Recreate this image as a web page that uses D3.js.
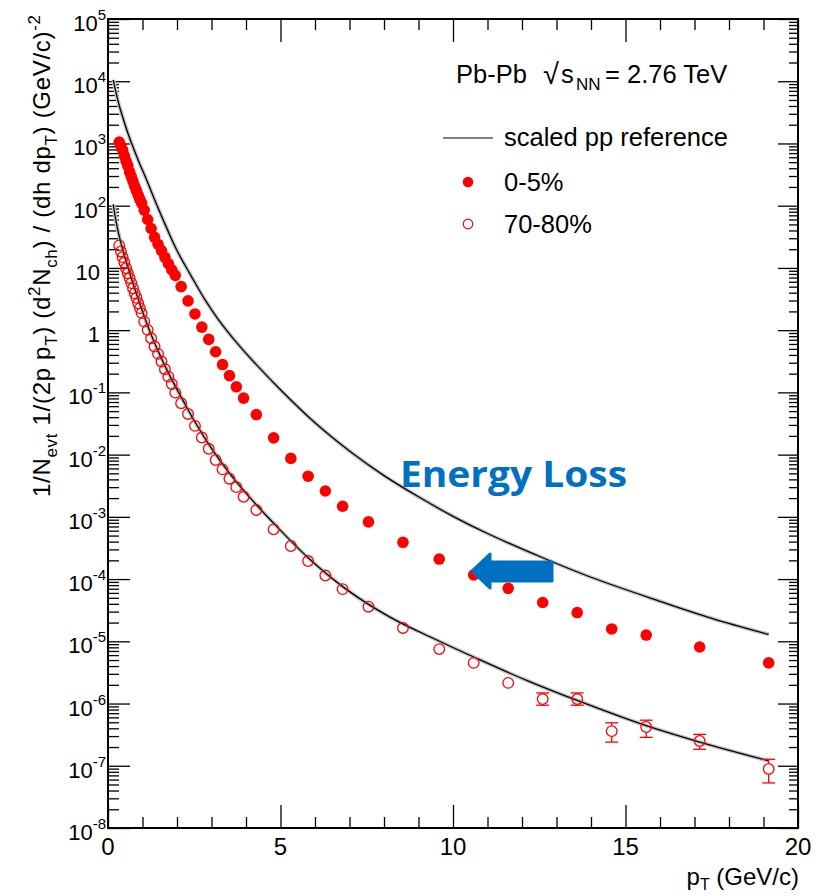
<!DOCTYPE html>
<html>
<head>
<meta charset="utf-8">
<script src="https://cdn.jsdelivr.net/npm/d3@7"></script>
<style>
  body { margin: 0; background: #fff; }
  text { font-family: "Liberation Sans", Arial, sans-serif; fill: #000; }
</style>
</head>
<body>
<div id="chart"></div>
<script>
// values (pT in GeV/c, yields per event)
var pt = [0.325, 0.375, 0.425, 0.475, 0.525, 0.575, 0.625, 0.675, 0.725, 0.775, 0.825, 0.875, 0.925, 0.975,
          1.05, 1.15, 1.25, 1.35, 1.45, 1.55, 1.65, 1.75, 1.85, 1.95,
          2.12, 2.32, 2.52, 2.72, 2.92, 3.12, 3.32, 3.52, 3.72, 3.93,
          4.3, 4.8, 5.3, 5.8, 6.3, 6.8,
          7.55, 8.55, 9.6, 10.6, 11.6, 12.6, 13.6, 14.6, 15.6, 17.15, 19.15];

var central05 = [1050, 910, 780, 630, 520, 440, 350, 295, 245, 205, 174, 148, 126, 110,
                 85, 60, 43, 31, 24, 19, 14.8, 11.7, 9.3, 7.6,
                 5.0, 2.95, 1.82, 1.12, 0.71, 0.45, 0.28, 0.186, 0.123, 0.081,
                 0.044, 0.0186, 8.7e-3, 4.5e-3, 2.6e-3, 1.48e-3,
                 8.3e-4, 3.9e-4, 2.1e-4, 1.17e-4, 7.1e-5, 4.2e-5, 2.9e-5, 1.58e-5, 1.26e-5, 8.1e-6, 4.5e-6];

var periph7080 = [23, 18.4, 14.9, 12.2, 9.9, 8.2, 6.9, 5.7, 4.7, 3.9, 3.3, 2.7, 2.26, 1.88,
                  1.37, 1.01, 0.74, 0.545, 0.416, 0.313, 0.236, 0.179, 0.136, 0.099,
                  0.067, 0.045, 0.029, 0.0188, 0.0124, 8.2e-3, 5.8e-3, 4.1e-3, 3.0e-3, 2.1e-3,
                  1.29e-3, 6.3e-4, 3.4e-4, 1.95e-4, 1.14e-4, 6.9e-5,
                  3.6e-5, 1.64e-5, 7.5e-6, 4.5e-6, 2.15e-6, 1.18e-6, 1.18e-6, 3.6e-7, 4.2e-7, 2.5e-7, 8.9e-8];

// visible error bars on the 70-80% points
var errPt   = [12.6, 13.6, 14.6, 15.6, 17.15, 19.15];
var errVal  = [1.18e-6, 1.18e-6, 3.6e-7, 4.2e-7, 2.5e-7, 8.9e-8];
var errLow  = [0.94e-6, 0.94e-6, 2.4e-7, 2.86e-7, 1.84e-7, 5.3e-8];
var errHigh = [1.48e-6, 1.48e-6, 4.9e-7, 5.4e-7, 3.2e-7, 1.27e-7];

// scaled pp reference curves
var refPt05 = [0.15, 0.2, 0.3, 0.4, 0.55, 0.7, 0.9, 1.1, 1.4, 1.7, 2.0, 2.4, 2.8, 3.2, 3.7, 4.2,
               5.0, 6.0, 7.0, 8.0, 9.0, 10.0, 11.0, 12.6, 14.0, 16.0, 17.5, 19.15];
var ref05 = [1.05e4, 7.9e3, 4.6e3, 2.95e3, 1.62e3, 950, 500, 275, 107, 44, 19, 7.6, 3.16, 1.48, 0.66, 0.32,
             0.11, 0.0324, 0.0114, 4.6e-3, 2.1e-3, 1.02e-3, 5.4e-4, 2.2e-4, 1.07e-4, 4.4e-5, 2.34e-5, 1.29e-5];

var refPt7080 = [0.15, 0.2, 0.25, 0.3, 0.4, 0.5, 0.65, 0.8, 1.0, 1.2, 1.4, 1.7, 2.0, 2.5, 3.0, 3.5, 4.0,
                 4.8, 5.8, 6.9, 8.2, 9.5, 10.6, 12.1, 13.6, 15.6, 17.15, 19.15];
var ref7080 = [105, 71, 50, 37, 22.4, 14.1, 7.6, 4.2, 2.0, 1.0, 0.54, 0.234, 0.112, 0.035, 0.0126, 5.2e-3, 2.4e-3,
               7.9e-4, 2.2e-4, 6.9e-5, 2.4e-5, 1.07e-5, 5.6e-6, 2.4e-6, 1.12e-6, 4.4e-7, 2.4e-7, 1.2e-7];

var xTickValues = [0, 5, 10, 15, 20];
var xTickLabels = ["0", "5", "10", "15", "20"];
var yTickValues = [1e5, 1e4, 1e3, 1e2, 10, 1, 1e-1, 1e-2, 1e-3, 1e-4, 1e-5, 1e-6, 1e-7, 1e-8];
var yTickBase = ["10", "10", "10", "10", "10", "1", "10", "10", "10", "10", "10", "10", "10", "10"];
var yTickExp  = ["5", "4", "3", "2", "", "", "-1", "-2", "-3", "-4", "-5", "-6", "-7", "-8"];

var width = 831, height = 896;
var margin = {top: 19, right: 33, bottom: 68, left: 108};
var w = width - margin.left - margin.right,
    h = height - margin.top - margin.bottom;

var red = "#ff0000", blue = "#0070c0";

var svg = d3.select("#chart").append("svg")
    .attr("width", width)
    .attr("height", height);

var x = d3.scaleLinear().domain([0, 20]).range([margin.left, margin.left + w]);
var y = d3.scaleLog().domain([1e-8, 1e5]).range([margin.top + h, margin.top]);

// minor ticks
var xMinor = d3.range(0, 21).filter(function(d) { return d % 5 !== 0; });
var yMinor = [];
yTickValues.slice(1).forEach(function(v) {
  for (var m = 2; m <= 9; m++) yMinor.push(v * m);
});

function axisGroup(axis, tx, ty) {
  var g = svg.append("g")
    .attr("transform", "translate(" + tx + "," + ty + ")")
    .call(axis);
  g.select(".domain").remove();
  g.selectAll(".tick line").attr("stroke", "#000").attr("stroke-width", 1.3);
  g.selectAll(".tick text").remove();
  return g;
}

var bottomY = margin.top + h, rightX = margin.left + w;

axisGroup(d3.axisBottom(x).tickValues(xTickValues).tickSize(-23).tickSizeOuter(0), 0, bottomY);
axisGroup(d3.axisBottom(x).tickValues(xMinor).tickSize(-11).tickSizeOuter(0), 0, bottomY);
axisGroup(d3.axisTop(x).tickValues(xTickValues).tickSize(-23).tickSizeOuter(0), 0, margin.top);
axisGroup(d3.axisTop(x).tickValues(xMinor).tickSize(-11).tickSizeOuter(0), 0, margin.top);
axisGroup(d3.axisLeft(y).tickValues(yTickValues).tickSize(-22).tickSizeOuter(0), margin.left, 0);
axisGroup(d3.axisLeft(y).tickValues(yMinor).tickSize(-11).tickSizeOuter(0), margin.left, 0);
axisGroup(d3.axisRight(y).tickValues(yTickValues).tickSize(-20).tickSizeOuter(0), rightX, 0);
axisGroup(d3.axisRight(y).tickValues(yMinor).tickSize(-9).tickSizeOuter(0), rightX, 0);

// frame
svg.append("rect")
  .attr("x", margin.left).attr("y", margin.top)
  .attr("width", w).attr("height", h)
  .attr("fill", "none").attr("stroke", "#000").attr("stroke-width", 2);

// tick labels
xTickValues.forEach(function(v, i) {
  svg.append("text")
    .attr("x", x(v)).attr("y", bottomY + 27)
    .attr("text-anchor", "middle")
    .style("font-size", "24px")
    .text(xTickLabels[i]);
});

yTickValues.forEach(function(v, i) {
  var t = svg.append("text")
    .attr("x", yTickExp[i] ? 106 : 100)
    .attr("y", y(v) + 12)
    .attr("text-anchor", "end")
    .style("font-size", "22px");
  t.append("tspan").text(yTickBase[i]);
  if (yTickExp[i]) t.append("tspan").attr("dy", -11).style("font-size", "15px").text(yTickExp[i]);
});

// text with sub/superscripts
function addRich(sel, parts, fs, ss, sub, sup) {
  var cur = 0;
  parts.forEach(function(p) {
    var target = p[1] === "sub" ? sub : (p[1] === "sup" ? sup : 0);
    sel.append("tspan")
      .attr("dy", target - cur)
      .style("font-size", (p[1] ? ss : fs) + "px")
      .text(p[0]);
    cur = target;
  });
}

var xTitle = svg.append("text")
  .attr("x", 799).attr("y", 885)
  .attr("text-anchor", "end")
  .style("font-size", "24px");
addRich(xTitle, [["p", ""], ["T", "sub"], [" (GeV/c)", ""]], 24, 16, 5, -10);

var yTitle = svg.append("text")
  .attr("transform", "translate(50,497) rotate(-90)")
  .attr("x", 0).attr("y", 0)
  .attr("textLength", 482)
  .attr("lengthAdjust", "spacing")
  .style("font-size", "24px");
addRich(yTitle, [
  ["1/N", ""], ["evt", "sub"], [" 1/(2p p", ""], ["T", "sub"], [") (d", ""], ["2", "sup"],
  ["N", ""], ["ch", "sub"], [") / (dh dp", ""], ["T", "sub"], [") (GeV/c)", ""], ["-2", "sup"]
], 24, 17, 7, -10);

// reference curves
var line = d3.line()
  .x(function(d) { return x(d[0]); })
  .y(function(d) { return y(d[1]); })
  .curve(d3.curveCatmullRom.alpha(0.5));

[[refPt05, ref05], [refPt7080, ref7080]].forEach(function(r) {
  var pts = d3.zip(r[0], r[1]);
  svg.append("path").datum(pts)
    .attr("d", line)
    .attr("fill", "none").attr("stroke", "#c4c4c4").attr("stroke-width", 4);
  svg.append("path").datum(pts)
    .attr("d", line)
    .attr("fill", "none").attr("stroke", "#000").attr("stroke-width", 1.3);
});

// error bars (70-80%)
var rOpen = 5.3;
errPt.forEach(function(p, i) {
  var cx = x(p), cy = y(errVal[i]);
  var yh = y(errHigh[i]), yl = y(errLow[i]);
  var g = svg.append("g").attr("stroke", red).attr("stroke-width", 1.3);
  if (yh < cy - rOpen) g.append("line").attr("x1", cx).attr("x2", cx).attr("y1", yh).attr("y2", cy - rOpen);
  if (yl > cy + rOpen) g.append("line").attr("x1", cx).attr("x2", cx).attr("y1", cy + rOpen).attr("y2", yl);
  g.append("line").attr("x1", cx - 6.5).attr("x2", cx + 6.5).attr("y1", yh).attr("y2", yh);
  g.append("line").attr("x1", cx - 6.5).attr("x2", cx + 6.5).attr("y1", yl).attr("y2", yl);
});

// data points
svg.append("g").selectAll("circle")
  .data(d3.zip(pt, periph7080))
  .enter().append("circle")
  .attr("cx", function(d) { return x(d[0]); })
  .attr("cy", function(d) { return y(d[1]); })
  .attr("r", rOpen)
  .attr("fill", "none").attr("stroke", red).attr("stroke-width", 1.3);

svg.append("g").selectAll("circle")
  .data(d3.zip(pt, central05))
  .enter().append("circle")
  .attr("cx", function(d) { return x(d[0]); })
  .attr("cy", function(d) { return y(d[1]); })
  .attr("r", 5.8)
  .attr("fill", red);

// legend
var sys = svg.append("g").style("font-size", "25.5px");
sys.append("text").attr("x", 456).attr("y", 83).text("Pb-Pb");
sys.append("text").attr("x", 543).attr("y", 84).style("font-size", "29px").text("\u221A");
sys.append("text").attr("x", 561).attr("y", 83).text("s");
sys.append("text").attr("x", 576).attr("y", 90).style("font-size", "17px").text("NN");
sys.append("text").attr("x", 605).attr("y", 83).text("= 2.76 TeV");

svg.append("line")
  .attr("x1", 443).attr("x2", 493).attr("y1", 138).attr("y2", 138)
  .attr("stroke", "#555").attr("stroke-width", 1.6);
svg.append("text").attr("x", 504).attr("y", 146).style("font-size", "25.5px").text("scaled pp reference");

svg.append("circle").attr("cx", 468).attr("cy", 182).attr("r", 5.3).attr("fill", red);
svg.append("text").attr("x", 504).attr("y", 191).style("font-size", "25.5px").text("0-5%");

svg.append("circle").attr("cx", 468).attr("cy", 224).attr("r", 4.8)
  .attr("fill", "none").attr("stroke", red).attr("stroke-width", 1.2);
svg.append("text").attr("x", 504).attr("y", 233).style("font-size", "25.5px").text("70-80%");

// annotation
svg.append("text")
  .attr("x", 400).attr("y", 487)
  .attr("textLength", 227).attr("lengthAdjust", "spacingAndGlyphs")
  .style("font-family", "'Open Sans', sans-serif")
  .style("font-weight", "700")
  .style("font-size", "36px")
  .style("fill", blue)
  .text("Energy Loss");

svg.append("path")
  .attr("d", "M472,571 L490,554 L490,562 L552,562 L552,581 L490,581 L490,588 Z")
  .attr("fill", blue).attr("stroke", blue)
  .attr("stroke-width", 3).attr("stroke-linejoin", "round");
</script>
</body>
</html>
